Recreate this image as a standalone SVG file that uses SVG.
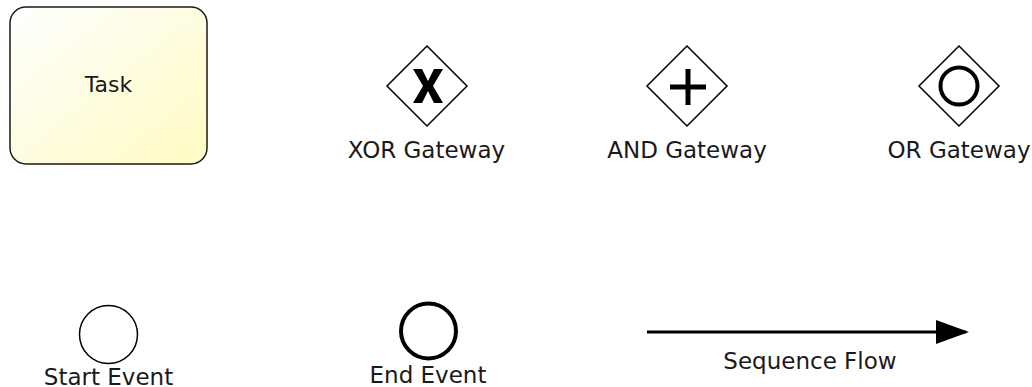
<svg xmlns="http://www.w3.org/2000/svg" width="1032" height="387" viewBox="0 0 1032 387">
  <style>
    text { font-family: "DejaVu Sans", Verdana, sans-serif; font-size: 23px; fill: #1a1a1a; text-anchor: middle; }
    .outline { fill: #ffffff; stroke: #000000; stroke-width: 1.5; }
    .thick { fill: none; stroke: #000000; stroke-width: 4; }
    .flow { stroke: #000000; stroke-width: 3; fill: none; }
  </style>
  <defs>
    <linearGradient id="taskFill" x1="0" y1="0" x2="1" y2="1">
      <stop offset="0" stop-color="#ffffff"/>
      <stop offset="1" stop-color="#fffbc2"/>
    </linearGradient>
    <marker id="arrow" viewBox="0 0 11 8" refX="10" refY="4" markerWidth="11" markerHeight="8" markerUnits="strokeWidth" orient="auto">
      <path d="M0,0 L11,4 L0,8 Z" fill="#000000"/>
    </marker>
  </defs>

  <g id="task">
    <rect x="10" y="7" width="197" height="157" rx="16" ry="16" fill="url(#taskFill)" stroke="#1a1a1a" stroke-width="1.5"/>
    <text x="108.5" y="92" style="font-size:22px">Task</text>
  </g>

  <g id="xor-gateway">
    <path class="outline" d="M427,46 L467,86 L427,126 L387,86 Z"/>
    <path d="M413,69 L422,69 L428,81 L434,69 L443,69 L433,86 L443,103 L434,103 L428,91 L422,103 L413,103 L423,86 Z" fill="#000000"/>
    <text x="426.5" y="158">XOR Gateway</text>
  </g>

  <g id="and-gateway">
    <path class="outline" d="M687,46 L727,86 L687,126 L647,86 Z"/>
    <path d="M670,87 L706,87 M688,69 L688,105" stroke="#000000" stroke-width="5" fill="none"/>
    <text x="687" y="158">AND Gateway</text>
  </g>

  <g id="or-gateway">
    <path class="outline" d="M959,46 L999,86 L959,126 L919,86 Z"/>
    <circle class="thick" cx="959" cy="86" r="18.5"/>
    <text x="959" y="158">OR Gateway</text>
  </g>

  <g id="start-event">
    <circle class="outline" cx="108.5" cy="334.5" r="29"/>
    <text x="108.5" y="385">Start Event</text>
  </g>

  <g id="end-event">
    <circle class="thick" cx="428.5" cy="331" r="27.5"/>
    <text x="428" y="383">End Event</text>
  </g>

  <g id="connectors">
    <line class="flow" x1="647" y1="332" x2="966" y2="332" marker-end="url(#arrow)"/>
    <text x="810" y="369">Sequence Flow</text>
  </g>
</svg>
